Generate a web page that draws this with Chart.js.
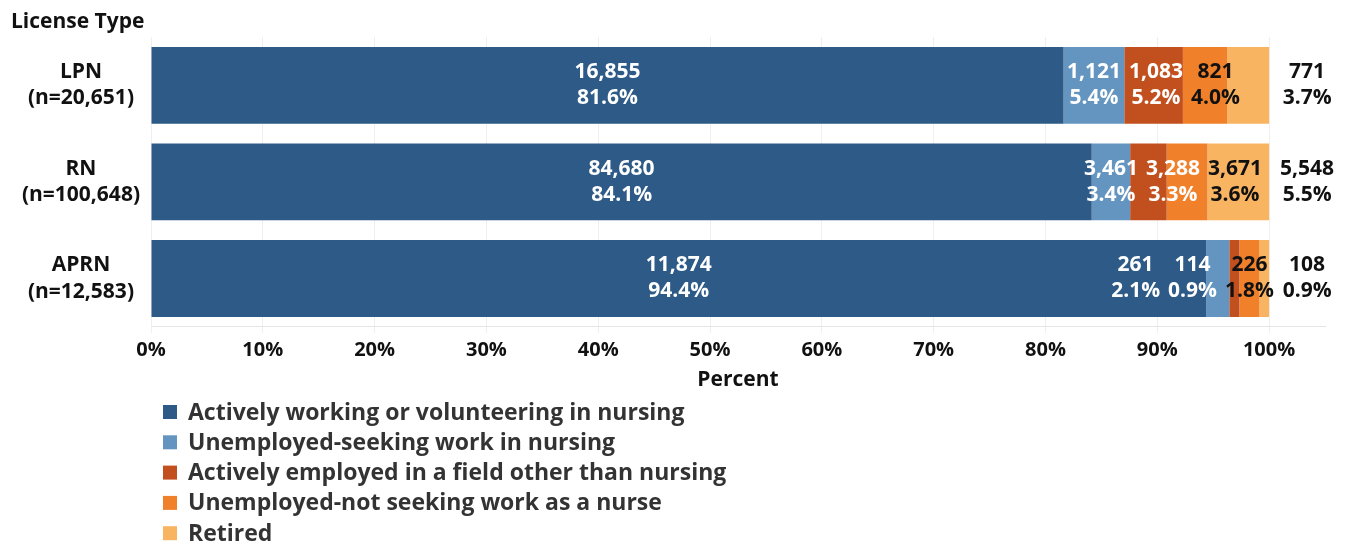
<!DOCTYPE html>
<html>
<head>
<meta charset="utf-8">
<title>Nursing employment status by license type</title>
<script src="https://cdn.jsdelivr.net/npm/chart.js@4.4.0/dist/chart.umd.min.js"></script>
<style>
  html, body { margin: 0; padding: 0; background: #fff; }
  #wrap { position: relative; width: 1351px; height: 545px; }
</style>
</head>
<body>
<div id="wrap"><canvas id="statusChart"></canvas></div>
<script>
// Counts per license type, one array per employment status
const licenseTypes = ["LPN", "RN", "APRN"];
const statusNames = [
  "Actively working or volunteering in nursing",
  "Unemployed-seeking work in nursing",
  "Actively employed in a field other than nursing",
  "Unemployed-not seeking work as a nurse",
  "Retired"
];
const activeNursing  = [16855, 84680, 11874];
const seekingNursing = [1121, 3461, 261];
const otherField     = [1083, 3288, 114];
const notSeeking     = [821, 3671, 226];
const retired        = [771, 5548, 108];
const xTicks = [0, 10, 20, 30, 40, 50, 60, 70, 80, 90, 100];

const statusColors = ["#2d5a86", "#6495c0", "#c2501f", "#f0812a", "#f9b462"];
const labelColors  = ["#ffffff", "#ffffff", "#ffffff", "#111111", "#111111"];

const FONT = "'Open Sans', 'DejaVu Sans', sans-serif";
const seriesCounts = [activeNursing, seekingNursing, otherField, notSeeking, retired];
const totals = licenseTypes.map((_, r) => seriesCounts.reduce((s, arr) => s + arr[r], 0));
const yLabels = licenseTypes.map((t, r) => [t, `(n=${totals[r].toLocaleString("en-US")})`]);

const datasets = seriesCounts.map((counts, i) => ({
  label: statusNames[i],
  counts,
  data: counts.map((c, r) => c / totals[r] * 100),
  backgroundColor: statusColors[i],
  borderWidth: 0,
  categoryPercentage: 1,
  barPercentage: 0.795
}));

// count + percent inside each segment, retired printed past the bar end
const segmentLabels = {
  id: "segmentLabels",
  afterDatasetsDraw(chart) {
    const { ctx } = chart;
    const GAP = 8;
    const last = chart.data.datasets.length - 1;
    ctx.save();
    ctx.font = `700 21px ${FONT}`;
    ctx.textAlign = "center";
    ctx.textBaseline = "middle";

    licenseTypes.forEach((_, row) => {
      const items = chart.data.datasets.map((ds, i) => {
        const bar = chart.getDatasetMeta(i).data[row];
        const lines = [ds.counts[row].toLocaleString("en-US"), ds.data[row].toFixed(1) + "%"];
        const w = Math.max(...lines.map(t => ctx.measureText(t).width));
        const ideal = i === last ? bar.x + 38 : (bar.base + bar.x) / 2;
        return { i, lines, w, cx: ideal, ideal, y: bar.y, end: bar.x };
      });

      // nudge the small inner segments apart so they don't overlap
      const inner = items.slice(1, last);
      const barEnd = items[last].end;
      for (let k = 1; k < inner.length; k++) {
        const prev = inner[k - 1], cur = inner[k];
        const minCx = prev.cx + prev.w / 2 + GAP + cur.w / 2;
        if (cur.cx < minCx) cur.cx = minCx;
      }
      const tail = inner[inner.length - 1];
      if (tail.cx + tail.w / 2 > barEnd + 4) {
        inner.forEach(l => { l.cx = l.ideal; });
        for (let k = inner.length - 2; k >= 0; k--) {
          const next = inner[k + 1], cur = inner[k];
          const maxCx = next.cx - next.w / 2 - GAP - cur.w / 2;
          if (cur.cx > maxCx) cur.cx = maxCx;
        }
      }

      items.forEach(l => {
        ctx.fillStyle = labelColors[l.i];
        ctx.fillText(l.lines[0], l.cx, l.y - 13);
        ctx.fillText(l.lines[1], l.cx, l.y + 13);
      });
    });
    ctx.restore();
  }
};

// axis heading top-left and a stacked legend under the x axis title
const chrome = {
  id: "chrome",
  afterDraw(chart) {
    const { ctx } = chart;
    ctx.save();
    ctx.font = `700 21px ${FONT}`;
    ctx.fillStyle = "#111";
    ctx.textAlign = "left";
    ctx.textBaseline = "middle";
    ctx.fillText("License Type", 11, 22);

    ctx.font = `700 23px ${FONT}`;
    chart.data.datasets.forEach((ds, i) => {
      const y = 412 + i * 30.3;
      ctx.fillStyle = ds.backgroundColor;
      ctx.fillRect(163, y - 7, 14, 14);
      ctx.fillStyle = "#333";
      ctx.fillText(ds.label, 188, y + 1);
    });
    ctx.restore();
  }
};

new Chart(document.getElementById("statusChart"), {
  type: "bar",
  data: { labels: yLabels, datasets },
  options: {
    indexAxis: "y",
    responsive: true,
    maintainAspectRatio: false,
    animation: false,
    layout: { padding: { left: 8, right: 26, top: 37, bottom: 152 } },
    scales: {
      x: {
        stacked: true,
        min: 0,
        max: 105,
        afterBuildTicks: axis => { axis.ticks = xTicks.map(v => ({ value: v })); },
        grid: { color: "#efefef", tickLength: 6 },
        border: { color: "#e6e6e6" },
        ticks: {
          color: "#111",
          font: { family: FONT, size: 20, weight: "700" },
          padding: 5,
          maxRotation: 0,
          callback: v => v + "%"
        },
        title: {
          display: true,
          text: "Percent",
          color: "#111",
          font: { family: FONT, size: 21, weight: "700" },
          padding: { top: 1, bottom: 0 }
        }
      },
      y: {
        stacked: true,
        grid: { display: false },
        border: { display: false },
        afterFit: scale => { scale.width = 143; },
        ticks: {
          color: "#111",
          crossAlign: "center",
          font: { family: FONT, size: 21, weight: "700", lineHeight: 1.25 }
        }
      }
    },
    plugins: {
      legend: { display: false },
      tooltip: {
        callbacks: {
          label: c => `${c.dataset.label}: ${c.dataset.counts[c.dataIndex].toLocaleString()} (${c.parsed.x.toFixed(1)}%)`
        }
      }
    }
  },
  plugins: [segmentLabels, chrome]
});
</script>
</body>
</html>
